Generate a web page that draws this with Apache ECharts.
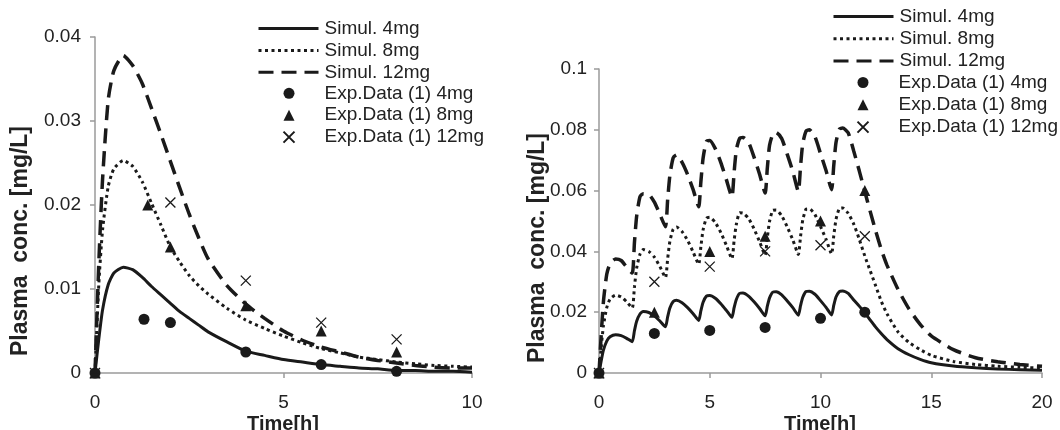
<!DOCTYPE html>
<html><head><meta charset="utf-8">
<script src="https://cdn.jsdelivr.net/npm/echarts@6/dist/echarts.min.js"></script>
<style>html,body{margin:0;padding:0;background:#fff}#c{width:1060px;height:430px}</style>
</head><body><div id="c"></div>
<script>
// ---- Left panel: single dose ----
const leftTime=[0,0.1,0.2,0.35,0.5,0.75,1,1.25,1.5,1.75,2,2.25,2.5,2.75,3,3.5,4,4.5,5,5.5,6,6.5,7,7.5,8,8.5,9,9.5,10];
const left4=[0,0.0040,0.0075,0.0105,0.0119,0.0126,0.0123,0.0114,0.0103,0.0093,0.0083,0.0073,0.0065,0.0057,0.0049,0.0037,0.0026,0.0021,0.0016,0.0013,0.0010,0.0008,0.0006,0.0005,0.0003,0.0003,0.0002,0.0002,0.0001];
const left8=[0,0.0105,0.0170,0.0222,0.0243,0.0253,0.0246,0.0228,0.0202,0.0176,0.0150,0.0132,0.0116,0.0104,0.0094,0.0077,0.0063,0.0053,0.0044,0.0036,0.0029,0.0024,0.0019,0.0016,0.0013,0.0011,0.0009,0.0008,0.0007];
const left12=[0,0.0130,0.0230,0.0325,0.0360,0.0378,0.0366,0.0345,0.0315,0.0284,0.0252,0.0220,0.0189,0.0161,0.0136,0.0104,0.0082,0.0065,0.0050,0.0039,0.0031,0.0025,0.0019,0.0015,0.0012,0.0009,0.0007,0.0006,0.0006];
const leftExp4T=[0,1.3,2,4,6,8];
const leftExp4=[0,0.0064,0.0060,0.0025,0.0010,0.0002];
const leftExp8T=[0,1.4,2,4,6,8];
const leftExp8=[0,0.0200,0.0150,0.0080,0.0050,0.0025];
const leftExp12T=[0,2,4,6,8];
const leftExp12=[0,0.0203,0.0110,0.0060,0.0040];

// ---- Right panel: repeated dosing ----
const rightTime=[0,0.1,0.2,0.35,0.5,0.75,1,1.25,
1.5,1.6,1.7,1.85,2,2.25,2.5,2.75,
3,3.1,3.2,3.35,3.5,3.75,4,4.25,
4.5,4.6,4.7,4.85,5,5.25,5.5,5.75,
6,6.1,6.2,6.35,6.5,6.75,7,7.25,
7.5,7.6,7.7,7.85,8,8.25,8.5,8.75,
9,9.1,9.2,9.35,9.5,9.75,10,10.25,
10.5,10.6,10.7,10.85,11,11.25,11.5,11.75,
12,12.25,12.5,12.75,13,13.5,14,14.5,15,16,17,18,19,20];
const right4=[0,0.0040,0.0075,0.0105,0.0119,0.0126,0.0123,0.0114,
0.0103,0.0139,0.0170,0.0194,0.0202,0.0199,0.0188,0.0171,
0.0152,0.0185,0.0214,0.0235,0.0239,0.0231,0.0215,0.0195,
0.0173,0.0205,0.0233,0.0253,0.0255,0.0246,0.0228,0.0206,
0.0183,0.0215,0.0242,0.0262,0.0263,0.0253,0.0234,0.0212,
0.0188,0.0220,0.0247,0.0266,0.0267,0.0257,0.0237,0.0215,
0.0190,0.0222,0.0249,0.0268,0.0269,0.0259,0.0238,0.0216,
0.0191,0.0223,0.0250,0.0268,0.0270,0.0262,0.0240,0.0220,
0.0198,0.0174,0.0150,0.0129,0.0110,0.0080,0.0060,0.0045,0.0034,0.0023,0.0017,0.0013,0.0011,0.0009];
const right8=[0,0.0085,0.0155,0.0215,0.0243,0.0256,0.0250,0.0234,
0.0214,0.0283,0.0345,0.0391,0.0406,0.0400,0.0381,0.0350,
0.0314,0.0376,0.0433,0.0473,0.0480,0.0465,0.0436,0.0398,
0.0358,0.0416,0.0471,0.0509,0.0512,0.0495,0.0462,0.0420,
0.0376,0.0436,0.0489,0.0527,0.0526,0.0509,0.0474,0.0432,
0.0388,0.0446,0.0499,0.0535,0.0536,0.0517,0.0480,0.0438,
0.0390,0.0450,0.0503,0.0539,0.0540,0.0521,0.0482,0.0440,
0.0392,0.0452,0.0505,0.0541,0.0543,0.0525,0.0490,0.0440,
0.0385,0.0335,0.0285,0.0235,0.0195,0.0135,0.0100,0.0077,0.0058,0.0038,0.0028,0.0022,0.0019,0.0016];
const right12=[0,0.0125,0.0235,0.0325,0.0360,0.0375,0.0370,0.0348,
0.0329,0.0429,0.0516,0.0580,0.0590,0.0588,0.0562,0.0522,
0.0481,0.0570,0.0650,0.0708,0.0717,0.0693,0.0653,0.0603,
0.0547,0.0630,0.0707,0.0762,0.0765,0.0738,0.0692,0.0636,
0.0579,0.0660,0.0734,0.0772,0.0775,0.0759,0.0710,0.0654,
0.0592,0.0675,0.0749,0.0786,0.0791,0.0771,0.0719,0.0663,
0.0597,0.0681,0.0755,0.0796,0.0800,0.0777,0.0722,0.0666,
0.0603,0.0684,0.0758,0.0802,0.0806,0.0790,0.0730,0.0665,
0.0597,0.0530,0.0465,0.0405,0.0355,0.0275,0.0210,0.0160,0.0122,0.0077,0.0050,0.0037,0.0028,0.0022];
const rightExpT=[0,2.5,5,7.5,10,12];
const rightExp4=[0,0.013,0.014,0.015,0.018,0.020];
const rightExp8=[0,0.020,0.040,0.045,0.050,0.060];
const rightExp12=[0,0.030,0.035,0.040,0.042,0.045];

const leftXTicks={min:0,max:10,interval:5};
const leftYTicks={min:0,max:0.04,interval:0.01};
const rightXTicks={min:0,max:20,interval:5};
const rightYTicks={min:0,max:0.1,interval:0.02};

const lineNames=['Simul. 4mg','Simul. 8mg','Simul. 12mg'];
const expNames=['Exp.Data (1) 4mg','Exp.Data (1) 8mg','Exp.Data (1) 12mg'];
const yTitle='Plasma  conc. [mg/L]';
const xTitle='Time[h]';

const FONT='"Liberation Sans", Arial, Helvetica, sans-serif';
const FS=19;
const INK='#1a1a1a';
const AX='#9a9a9a';
function zip(t,v){return t.map((x,i)=>[x,v[i]]);}
const fmt=v=>String(+v.toFixed(3));

function axis(extra,margin){
  return Object.assign({
    type:'value',
    axisLine:{show:true,onZero:false,lineStyle:{color:AX,width:1.5}},
    axisTick:{show:true,length:5,lineStyle:{color:AX,width:1.5}},
    splitLine:{show:false},
    axisLabel:{fontSize:FS,color:'#222',fontFamily:FONT,margin,formatter:fmt}
  },extra);
}
const lineStyles=[
  {type:'solid',width:3},
  {type:[3,3.5],width:3},
  {type:[15,8],width:3.5}
];
function lineSeries(name,idx,t,v,style){
  return {name,type:'line',xAxisIndex:idx,yAxisIndex:idx,data:zip(t,v),symbol:'none',showSymbol:false,
    smooth:0.2,lineStyle:Object.assign({color:INK,opacity:1},style),itemStyle:{color:INK},z:2,silent:true};
}
const CROSS='path://M0,0L10,10M10,0L0,10';
function scatter(name,idx,t,v,kind){
  const s={name,type:'scatter',xAxisIndex:idx,yAxisIndex:idx,data:zip(t,v),z:5,silent:true,symbolKeepAspect:true};
  if(kind==='circle'){s.symbol='circle';s.symbolSize=11;s.itemStyle={color:INK,opacity:1,borderWidth:0};}
  else if(kind==='triangle'){s.symbol='triangle';s.symbolSize=11;s.itemStyle={color:INK,opacity:1,borderWidth:0};}
  else {s.symbol=CROSS;s.symbolSize=10;s.itemStyle={color:INK,opacity:1,borderColor:INK,borderWidth:1.3};}
  return s;
}
const series=[
  lineSeries(lineNames[0],0,leftTime,left4,lineStyles[0]),
  lineSeries(lineNames[1],0,leftTime,left8,lineStyles[1]),
  lineSeries(lineNames[2],0,leftTime,left12,lineStyles[2]),
  scatter(expNames[0],0,leftExp4T,leftExp4,'circle'),
  scatter(expNames[1],0,leftExp8T,leftExp8,'triangle'),
  scatter(expNames[2],0,leftExp12T,leftExp12,'cross'),
  lineSeries(lineNames[0],1,rightTime,right4,lineStyles[0]),
  lineSeries(lineNames[1],1,rightTime,right8,lineStyles[1]),
  lineSeries(lineNames[2],1,rightTime,right12,lineStyles[2]),
  scatter(expNames[0],1,rightExpT,rightExp4,'circle'),
  scatter(expNames[1],1,rightExpT,rightExp8,'triangle'),
  scatter(expNames[2],1,rightExpT,rightExp12,'cross')
];
function lineLegend(left,top,gap){
  const data=lineNames.map(n=>({name:n,itemStyle:{color:'rgba(0,0,0,0)',borderWidth:0,opacity:0}}));
  return {orient:'vertical',left,top,itemWidth:60,itemHeight:11,itemGap:gap,data,
    selectedMode:false,padding:0,lineStyle:{width:3},
    textStyle:{fontSize:FS,color:'#222',fontFamily:FONT,padding:[0,0,0,1]}};
}
function markLegend(left,top,gap){
  return {orient:'vertical',left,top,itemWidth:11,itemHeight:11,itemGap:gap,data:expNames,
    selectedMode:false,padding:0,
    textStyle:{fontSize:FS,color:'#222',fontFamily:FONT,padding:[0,0,0,25]}};
}
function txt(x,y,text,size,rot){
  return {type:'text',x,y,rotation:rot||0,silent:true,
    style:{text,font:'bold '+size+'px '+FONT,fill:'#222',textAlign:'center',textVerticalAlign:'middle'}};
}
const LP=21.6, RP=22;
const chart=echarts.init(document.getElementById('c'),null,{renderer:'canvas'});
chart.setOption({
  animation:false,
  backgroundColor:'#fff',
  grid:[{left:95,top:37,width:377,height:336},{left:599,top:69,width:443,height:304}],
  xAxis:[axis(Object.assign({gridIndex:0},leftXTicks),20),
         axis(Object.assign({gridIndex:1},rightXTicks),20)],
  yAxis:[axis(Object.assign({gridIndex:0},leftYTicks),14),
         axis(Object.assign({gridIndex:1},rightYTicks),12)],
  legend:[lineLegend(257,19,2.9),markLegend(282.5,19+3*LP,2.9),
          lineLegend(832,7,3.3),markLegend(856.5,7+3*RP,3.3)],
  graphic:[txt(21,241,yTitle,23,Math.PI/2),txt(538,248,yTitle,23,Math.PI/2),txt(283,424,xTitle,20),txt(820,424,xTitle,20)],
  series
});
</script></body></html>
